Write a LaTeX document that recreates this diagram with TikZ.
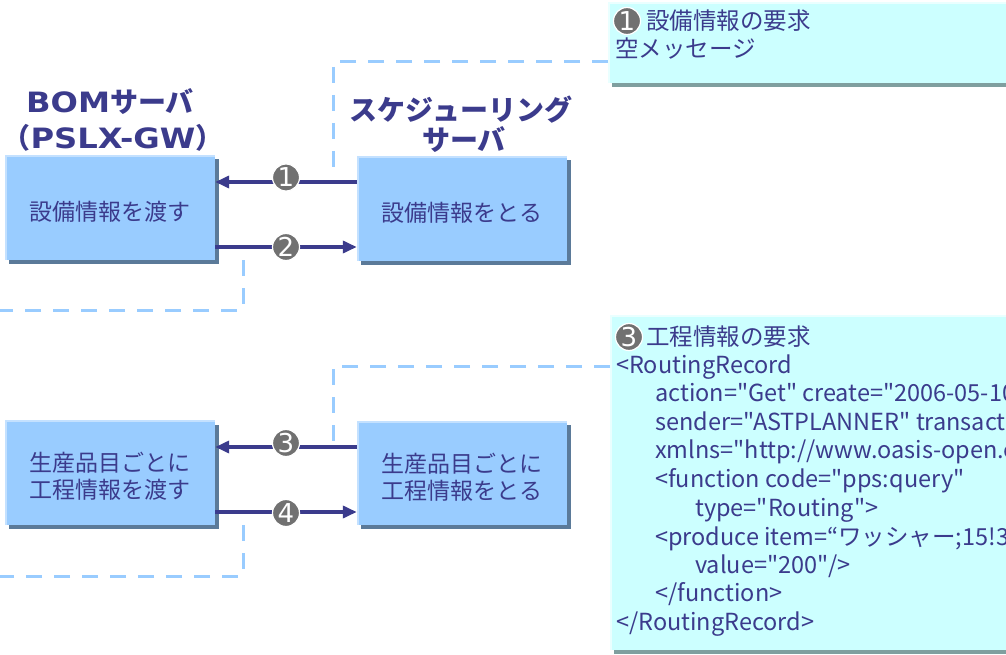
\documentclass[tikz,border=0pt]{standalone}
\usepackage{graphicx}
\usepackage{fontspec}
\setmainfont{Noto Sans CJK JP}
% plain family: keeps straight ASCII quotes in the XML listing
\newfontfamily\codefont{Noto Sans CJK JP}
\newfontfamily\latb{DejaVu Sans}
\newcommand{\widelatin}[1]{\scalebox{1.15}[1]{\latb #1}}
\usetikzlibrary{arrows.meta,shadows}

\definecolor{navy}{HTML}{3B3B8C}
\definecolor{boxfill}{HTML}{99CCFF}
\definecolor{boxlite}{HTML}{C4E1FF}
\definecolor{boxshade}{HTML}{5B7A99}
\definecolor{notefill}{HTML}{CCFFFF}
\definecolor{notelite}{HTML}{EAFFFF}
\definecolor{noteshade}{HTML}{7F9F9F}
\definecolor{numgrey}{HTML}{717171}
\definecolor{leader}{HTML}{99CCFF}

\tikzset{
  procbox/.style={fill=boxfill, minimum width=210pt, minimum height=104pt,
    inner sep=0pt,
    drop shadow={shadow xshift=4pt, shadow yshift=-4pt, fill=boxshade, opacity=1}},
  boxtext/.style={text=navy, align=center, inner sep=0pt,
    font=\fontsize{23}{27}\selectfont},
  notebox/.style={fill=notefill, minimum width=430pt, inner sep=0pt, anchor=north west,
    drop shadow={shadow xshift=4pt, shadow yshift=-4pt, fill=noteshade, opacity=1}},
  flow/.style={draw=navy, line width=4.5pt, -{Triangle[length=14pt,width=12pt]}},
  num/.style={circle, fill=numgrey, draw=white, line width=1.2pt, text=white,
    inner sep=0pt, minimum size=27pt, font=\latb\fontsize{26}{26}\selectfont},
  leaderline/.style={draw=leader, line width=3pt, dash pattern=on 16pt off 12pt},
  heading/.style={text=navy, font=\bfseries\fontsize{28}{28}\selectfont, inner sep=0pt},
  notetext/.style={text=navy, anchor=base west, inner sep=0pt,
    font=\codefont\fontsize{23.5}{23.5}\selectfont},
}

\begin{document}
\begin{tikzpicture}[x=1pt,y=-1pt]
\useasboundingbox (0,0) rectangle (1006,655);
\clip (0,0) rectangle (1006,655);

% server headings
\node[heading] (bomA) at (110,102) {\widelatin{BOM}サーバ};
\node[heading] (bomB) at (113,138) {（\widelatin{PSLX-GW}）};
\node[heading] (schA) at (461,110) {スケジューリング};
\node[heading] (schB) at (464,140) {サーバ};

% process boxes
\node[procbox] (give1) at (110,207.5) {};
\node[procbox] (take1) at (462,208.5) {};
\node[procbox] (give2) at (110,472.5) {};
\node[procbox] (take2) at (462,473) {};
\foreach \b in {give1,take1,give2,take2}
  \draw[boxlite, line width=2pt] ([shift={(1pt,0pt)}]\b.south west) -- ([shift={(1pt,-1pt)}]\b.north west) -- ([shift={(0pt,-1pt)}]\b.north east);
\node[boxtext] (give1txt) at ([yshift=-4.5pt]give1.center) {設備情報を渡す};
\node[boxtext] (take1txt) at ([yshift=-4.5pt]take1.center) {設備情報をとる};
\node[boxtext] (give2txt) at ([yshift=-4pt]give2.center) {生産品目ごとに\\工程情報を渡す};
\node[boxtext] (take2txt) at ([yshift=-4pt]take2.center) {生産品目ごとに\\工程情報をとる};

% message boxes
\node[notebox, minimum height=81pt] (note1) at (608,2) {};
\node[notebox, minimum height=335pt] (note3) at (610,315) {};
\foreach \b in {note1,note3}
  \draw[notelite, line width=2pt] ([shift={(1pt,0pt)}]\b.south west) -- ([shift={(1pt,-1pt)}]\b.north west) -- ([shift={(0pt,-1pt)}]\b.north east);

% leader lines from the message boxes to the arrows
\coordinate (tip1) at (333,168);
\coordinate (tip3) at (333,443);
\draw[leaderline] (note1.west |- 0,62) -| (tip1);
\draw[leaderline] (note3.west |- 0,366) -| (tip3);

\coordinate (tip2) at (243,260);
\coordinate (out2) at (-5,310);
\coordinate (tip4) at (243,525);
\coordinate (out4) at (-5,576);
\draw[leaderline] (tip2) |- (out2);
\draw[leaderline] (tip4) |- (out4);

% message arrows
\draw[flow] (take1.west |- 0,182) -- node[num, yshift=4.5pt] (m1) {1} (give1.east |- 0,182);
\draw[flow] (give1.east |- 0,247) -- node[num] (m2) {2} (take1.west |- 0,247);
\draw[flow] (take2.west |- 0,447) -- node[num, yshift=4pt] (m3) {3} (give2.east |- 0,447);
\draw[flow] (give2.east |- 0,512) -- node[num, yshift=-1pt] (m4) {4} (take2.west |- 0,512);

% message 1 contents
\node[num] (t1) at (627,21) {1};
\node[notetext] (h1) at (646,29.5) {設備情報の要求};
\node[notetext] (l1) at (615,58) {空メッセージ};

% message 3 contents
\node[num] (t3) at (629,337) {3};
\node[notetext] (h3) at (646,345.5) {工程情報の要求};
\node[notetext] (c1) at (616,373) {<RoutingRecord};
\node[notetext] (c2) at (655,401) {action="Get" create="2006-05-10T10:00:00"};
\node[notetext] (c3) at (655,430) {sender="ASTPLANNER" transaction="T001"};
\node[notetext] (c4) at (655,458) {xmlns="http://www.oasis-open.org/pps"};
\node[notetext] (c5) at (655,487) {<function code="pps:query"};
\node[notetext] (c6) at (695,516) {type="Routing">};
\node[notetext] (c7) at (655,545) {<produce item=“ワッシャー;15!36"};
\node[notetext] (c8) at (695,573) {value="200"/>};
\node[notetext] (c9) at (655,601) {</function>};
\node[notetext] (c10) at (616,630) {</RoutingRecord>};
\end{tikzpicture}
\end{document}
